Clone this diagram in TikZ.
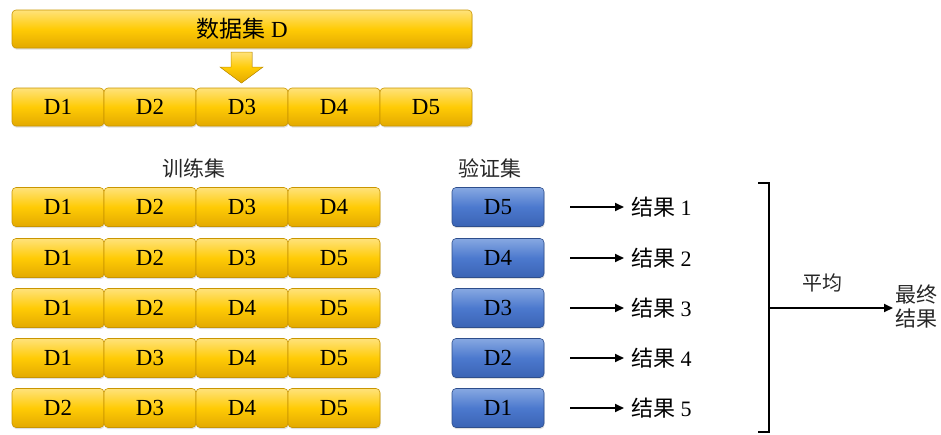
\documentclass[tikz,border=0pt]{standalone}
\usepackage{fontspec}
\setmainfont{Liberation Serif}
\newfontfamily\cjk{Noto Sans CJK SC}
\usetikzlibrary{arrows.meta,shadows}
\definecolor{goldtop}{HTML}{FFE27A}
\definecolor{goldmid}{HTML}{FFCB05}
\definecolor{goldbot}{HTML}{E3A900}
\definecolor{goldedge}{HTML}{C99500}
\definecolor{bluetop}{HTML}{86A8E2}
\definecolor{bluemid}{HTML}{4C79CE}
\definecolor{bluebot}{HTML}{3A63B4}
\definecolor{blueedge}{HTML}{2E4E8C}
\tikzset{
  cellbase/.style={rounded corners=4pt, line width=0.6pt, inner sep=0pt,
    minimum width=92pt, minimum height=39pt, text=black,
    font=\fontsize{23}{23}\selectfont,
    drop shadow={opacity=0.25, shadow xshift=0.6pt, shadow yshift=-1.6pt}},
  goldcell/.style={cellbase, draw=goldedge, top color=goldtop, bottom color=goldbot, middle color=goldmid},
  bluecell/.style={cellbase, draw=blueedge, top color=bluetop, bottom color=bluebot, middle color=bluemid},
  caption/.style={font=\cjk\fontsize{21}{21}\selectfont, text=black!85, inner sep=1pt},
  result/.style={anchor=west, inner sep=2pt, font=\fontsize{22}{22}\selectfont},
  link/.style={line width=1.8pt, -{Triangle[length=9pt,width=8pt]}},
}
\begin{document}
\begin{tikzpicture}[x=1pt, y=-1pt]
\useasboundingbox (0,0) rectangle (941,434);

% whole data set
\node[goldcell, minimum width=460pt, minimum height=38pt] (all) at (242,29)
  {{\cjk 数据集} D};

% split arrow
\fill[top color=goldtop, bottom color=goldbot, middle color=goldmid, draw=goldedge, line width=0.5pt]
  (231,52) -- (252,52) -- (252,67) -- (263,67) -- (241.5,83) -- (220,67) -- (231,67) -- cycle;

% five folds
\foreach \i in {1,...,5}
  \node[goldcell, minimum height=38pt] (f\i) at ({12+46+92*(\i-1)},107) {D\i};

% captions
\node[caption] (trainlbl) at (194,168) {训练集};
\node[caption] (vallbl) at (490,168) {验证集};

% training rows, validation folds and results
\foreach \r/\y/\a/\b/\c/\d/\v in {1/207/1/2/3/4/5, 2/258/1/2/3/5/4, 3/308/1/2/4/5/3, 4/358/1/3/4/5/2, 5/408/2/3/4/5/1} {
  \node[goldcell] (t\r a) at (58,\y) {D\a};
  \node[goldcell] (t\r b) at (150,\y) {D\b};
  \node[goldcell] (t\r c) at (242,\y) {D\c};
  \node[goldcell] (t\r d) at (334,\y) {D\d};
  \node[bluecell] (v\r) at (498,\y) {D\v};
  \node[result] (res\r) at (629,\y) {{\cjk 结果} \r};
  \draw[link, shorten <=26pt, shorten >=5pt] (v\r.east) -- (res\r.west);
}

% averaging bracket
\coordinate (btop) at (769,183);
\coordinate (bbot) at (769,432);
\coordinate (bmid) at (769,308);
\draw[line width=2pt] ([xshift=-11pt]btop) -- (btop) -- (bbot) -- ([xshift=-11pt]bbot);
\node[caption, font=\cjk\fontsize{20}{20}\selectfont] (avg) at (822,283) {平均};
\node[caption, anchor=west, align=left, font=\cjk\fontsize{21}{24}\selectfont] (final) at (894,307) {最终\\结果};
\draw[link, shorten >=1pt] (bmid) -- (final.west |- bmid);
\end{tikzpicture}
\end{document}
